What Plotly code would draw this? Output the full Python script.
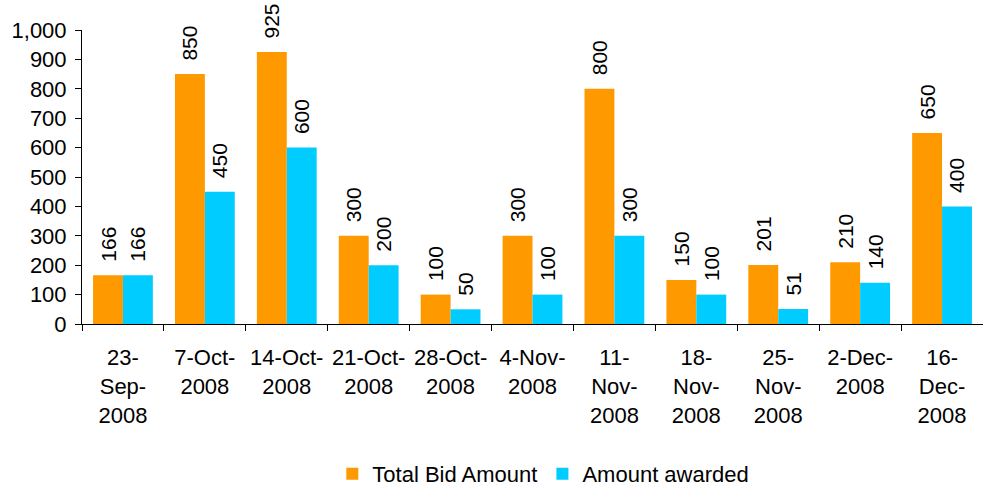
import plotly.graph_objects as go

dates = ["23-<br>Sep-<br>2008", "7-Oct-<br>2008", "14-Oct-<br>2008", "21-Oct-<br>2008",
         "28-Oct-<br>2008", "4-Nov-<br>2008", "11-<br>Nov-<br>2008", "18-<br>Nov-<br>2008",
         "25-<br>Nov-<br>2008", "2-Dec-<br>2008", "16-<br>Dec-<br>2008"]
total_bid = [166, 850, 925, 300, 100, 300, 800, 150, 201, 210, 650]
awarded = [166, 450, 600, 200, 50, 100, 300, 100, 51, 140, 400]

FONT = "Liberation Sans, Arial, sans-serif"

fig = go.Figure()
for name, vals, color in [("Total Bid Amount", total_bid, "#FF9900"),
                          ("Amount awarded", awarded, "#00CCFF")]:
    fig.add_trace(go.Bar(
        x=dates, y=vals, name=name, marker=dict(color=color, line=dict(width=0)),
        texttemplate="\u2002%{y}", textposition="outside", textangle=-90,
        constraintext="none",
        textfont=dict(family=FONT, size=21, color="black"), cliponaxis=False,
    ))

fig.update_layout(
    width=983, height=489,
    margin=dict(l=82, r=0, t=30, b=165, autoexpand=False),
    plot_bgcolor="white", paper_bgcolor="white",
    barmode="group", bargap=0.27, bargroupgap=0,
    font=dict(family=FONT, size=22, color="black"),
    showlegend=True,
    legend=dict(orientation="h", x=0.512, xanchor="center", y=-0.51, yanchor="middle",
                font=dict(size=22), tracegroupgap=0),
)
fig.update_xaxes(showline=True, linecolor="black", linewidth=1, ticks="outside",
                 tickson="boundaries", ticklen=6, tickcolor="black", showgrid=False,
                 tickangle=0, tickfont=dict(size=22), ticklabelstandoff=14,
                 automargin=False)
fig.update_yaxes(range=[0, 1000], dtick=100, tickformat=",d", showline=True,
                 linecolor="black", linewidth=1, ticks="outside", ticklen=6,
                 tickcolor="black", showgrid=False, zeroline=False,
                 tickfont=dict(size=22), ticklabelstandoff=4, automargin=False)

# page has a default 8px body margin; drop it so the figure sits at 0,0
fig.write_html("out.html", config={"displayModeBar": False},
               post_script="document.body.style.margin='0';")
